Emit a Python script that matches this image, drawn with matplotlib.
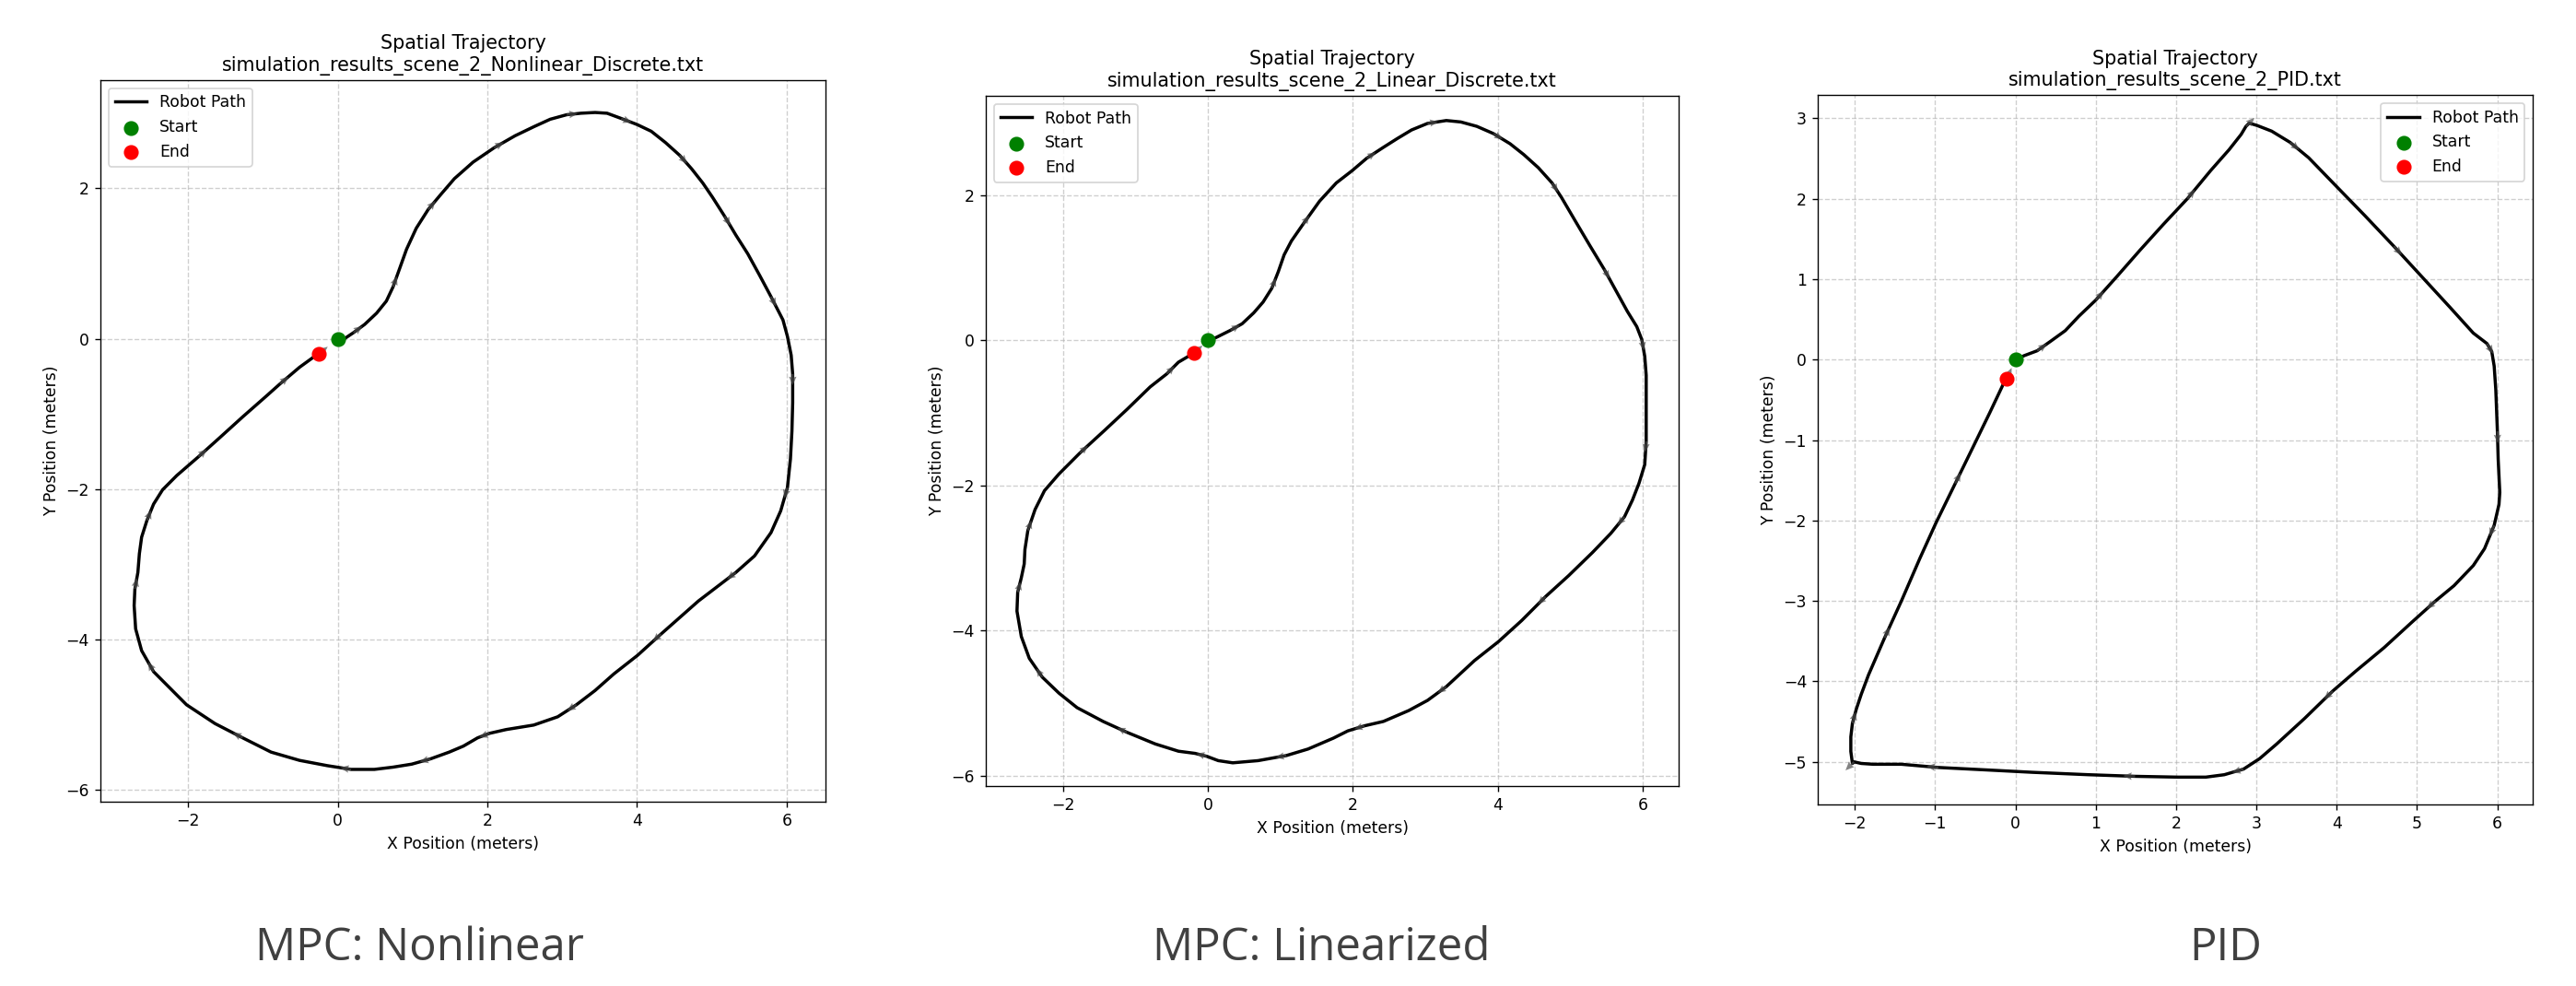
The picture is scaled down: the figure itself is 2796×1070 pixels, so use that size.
import numpy as np
import matplotlib
matplotlib.use('Agg')
import matplotlib.pyplot as plt
from matplotlib.ticker import MultipleLocator

# Trayectorias (metros)
nl_x = [0.00, 0.09, 0.21, 0.36, 0.52, 0.65, 0.74, 0.83, 0.92, 1.05, 1.21, 1.37, 1.56, 1.81, 2.09, 2.37,
        2.62, 2.84, 3.06, 3.25, 3.44, 3.60, 3.79, 4.00, 4.19, 4.38, 4.57, 4.73, 4.88, 5.01, 5.17, 5.32,
        5.48, 5.64, 5.79, 5.95, 6.01, 6.06, 6.08, 6.08, 6.07, 6.05, 6.01, 5.92, 5.79, 5.57, 5.32, 5.07,
        4.82, 4.57, 4.32, 4.01, 3.69, 3.44, 3.19, 2.94, 2.62, 2.25, 2.03, 1.87, 1.68, 1.49, 1.24, 0.99,
        0.74, 0.49, 0.18, -0.14, -0.51, -0.89, -1.27, -1.64, -2.02, -2.27, -2.46, -2.62, -2.70, -2.72,
        -2.71, -2.67, -2.65, -2.62, -2.55, -2.46, -2.34, -2.15, -1.86, -1.58, -1.27, -0.95, -0.77, -0.51,
        -0.33, -0.25]
nl_y = [0.00, 0.00, 0.08, 0.19, 0.34, 0.50, 0.69, 0.94, 1.19, 1.47, 1.72, 1.91, 2.13, 2.35, 2.54, 2.70,
        2.82, 2.92, 2.98, 3.00, 3.01, 3.00, 2.93, 2.85, 2.76, 2.61, 2.44, 2.26, 2.07, 1.88, 1.63, 1.38,
        1.13, 0.84, 0.56, 0.25, 0.03, -0.22, -0.47, -0.85, -1.23, -1.60, -1.98, -2.29, -2.58, -2.89, -3.11, -3.30,
        -3.49, -3.71, -3.93, -4.21, -4.46, -4.68, -4.87, -5.03, -5.14, -5.20, -5.25, -5.31, -5.42, -5.50, -5.59, -5.66,
        -5.70, -5.73, -5.73, -5.68, -5.61, -5.50, -5.31, -5.12, -4.87, -4.62, -4.43, -4.15, -3.86, -3.55,
        -3.33, -3.11, -2.86, -2.64, -2.42, -2.20, -2.01, -1.82, -1.57, -1.32, -1.04, -0.76, -0.60, -0.38,
        -0.25, -0.20]

lin_x = [0.00, 0.11, 0.31, 0.47, 0.63, 0.76, 0.88, 0.97, 1.05, 1.15, 1.31, 1.54, 1.77, 1.99, 2.19, 2.42,
         2.61, 2.81, 3.03, 3.29, 3.49, 3.71, 3.94, 4.17, 4.36, 4.56, 4.75, 4.88, 5.08, 5.27, 5.47, 5.63,
         5.79, 5.92, 5.99, 6.03, 6.05, 6.05, 6.05, 6.03, 5.95, 5.86, 5.75, 5.56, 5.31, 4.98, 4.66, 4.33,
         4.01, 3.68, 3.29, 3.03, 2.77, 2.42, 2.16, 1.93, 1.73, 1.38, 1.08, 0.69, 0.34, 0.14, -0.02, -0.18,
         -0.41, -0.73, -1.12, -1.45, -1.81, -2.06, -2.29, -2.47, -2.58, -2.64, -2.63, -2.58, -2.54, -2.53,
         -2.49, -2.39, -2.26, -2.06, -1.77, -1.42, -1.12, -0.80, -0.57, -0.41, -0.19]
lin_y = [0.00, 0.04, 0.14, 0.23, 0.38, 0.53, 0.72, 0.95, 1.18, 1.37, 1.60, 1.92, 2.17, 2.34, 2.51, 2.66,
         2.78, 2.90, 2.99, 3.03, 3.01, 2.95, 2.85, 2.71, 2.56, 2.38, 2.17, 1.97, 1.63, 1.31, 0.98, 0.69,
         0.40, 0.19, 0.01, -0.22, -0.48, -0.87, -1.39, -1.71, -1.97, -2.20, -2.43, -2.66, -2.92, -3.24, -3.53, -3.86,
         -4.15, -4.41, -4.77, -4.96, -5.10, -5.25, -5.31, -5.38, -5.48, -5.63, -5.72, -5.79, -5.82, -5.79, -5.73, -5.69,
         -5.66, -5.56, -5.40, -5.25, -5.06, -4.86, -4.64, -4.38, -4.08, -3.73, -3.47, -3.27, -3.08, -2.88,
         -2.62, -2.33, -2.07, -1.84, -1.55, -1.23, -0.95, -0.64, -0.46, -0.30, -0.17]

pid_x = [0.00, 0.11, 0.27, 0.44, 0.62, 0.79, 1.00, 1.26, 1.55, 1.84, 2.14, 2.43, 2.66, 2.81, 2.87, 2.91,
         3.01, 3.19, 3.42, 3.65, 3.98, 4.35, 4.71, 5.06, 5.41, 5.70, 5.87, 5.93, 5.96, 5.98, 6.00, 6.01,
         6.03, 6.02, 5.96, 5.84, 5.70, 5.46, 5.23, 4.94, 4.59, 4.24, 3.95, 3.60, 3.25, 3.04, 2.84, 2.60,
         2.37, 2.02, 1.49, 0.91, 0.21, -0.37, -0.96, -1.42, -1.77, -1.92, -2.01, -2.03, -2.05, -2.05,
         -2.03, -1.98, -1.92, -1.83, -1.63, -1.42, -1.19, -0.99, -0.75, -0.52, -0.32, -0.14, -0.11]
pid_y = [0.00, 0.05, 0.11, 0.23, 0.36, 0.54, 0.74, 1.03, 1.36, 1.68, 2.00, 2.35, 2.61, 2.80, 2.90, 2.94,
         2.91, 2.84, 2.70, 2.51, 2.17, 1.79, 1.41, 1.03, 0.65, 0.33, 0.20, 0.10, -0.08, -0.37, -0.89, -1.24,
         -1.65, -1.80, -2.06, -2.35, -2.56, -2.81, -3.00, -3.26, -3.58, -3.87, -4.12, -4.46, -4.78, -4.96, -5.09, -5.16,
         -5.19, -5.19, -5.18, -5.16, -5.13, -5.10, -5.07, -5.03, -5.03, -5.02, -5.00, -5.02, -4.87, -4.69,
         -4.52, -4.34, -4.16, -3.92, -3.46, -3.00, -2.47, -2.03, -1.54, -1.07, -0.66, -0.28, -0.24]

file_names = ['simulation_results_scene_2_Nonlinear_Discrete.txt',
              'simulation_results_scene_2_Linear_Discrete.txt',
              'simulation_results_scene_2_PID.txt']
captions = ['MPC: Nonlinear', 'MPC: Linearized', 'PID']

DPI = 124
fig = plt.figure(figsize=(2796 / DPI, 1070 / DPI), dpi=DPI)

panels = [
    # posición, xlim, ylim, paso de ticks, loc leyenda, centro x del pie
    ([0.0390, 0.1869, 0.2815, 0.7318], (-3.17, 6.52), (-6.16, 3.44), 2, 'upper left', 455),
    ([0.3827, 0.2028, 0.2690, 0.7000], (-3.07, 6.50), (-6.14, 3.37), 2, 'upper left', 1434),
    ([0.7057, 0.1841, 0.2775, 0.7196], (-2.46, 6.44), (-5.53, 3.29), 1, 'upper right', 2416),
]
paths = [(nl_x, nl_y), (lin_x, lin_y), (pid_x, pid_y)]

arrow_kw = dict(angles='xy', scale_units='xy', scale=1, color='#4d4d4d', alpha=0.7,
                width=0.003, headwidth=3.5, headlength=4, headaxislength=3.6, zorder=3)

for (pos, xl, yl, step, loc, cx), (px, py), fname, cap in zip(panels, paths, file_names, captions):
    ax = fig.add_axes(pos)
    px = np.array(px)
    py = np.array(py)
    ax.plot(px, py, color='black', lw=2, label='Robot Path', zorder=2)

    # flechitas de dirección
    idx = np.arange(2, len(px) - 1, 4)
    dx = px[idx + 1] - px[idx]
    dy = py[idx + 1] - py[idx]
    n = np.hypot(dx, dy)
    ax.quiver(px[idx], py[idx], dx / n * 0.15, dy / n * 0.15, **arrow_kw)
    ex, ey = -px[-1], -py[-1]
    en = np.hypot(ex, ey)
    ax.quiver(px[-1], py[-1], ex / en * 0.15, ey / en * 0.15, **arrow_kw)

    ax.scatter(px[0], py[0], color='green', s=70, label='Start', zorder=5)
    ax.scatter(px[-1], py[-1], color='red', s=70, label='End', zorder=5)

    ax.set_xlim(*xl)
    ax.set_ylim(*yl)
    ax.xaxis.set_major_locator(MultipleLocator(step))
    ax.yaxis.set_major_locator(MultipleLocator(step))
    ax.grid(True, linestyle='--', alpha=0.6)
    ax.set_title('Spatial Trajectory\n' + fname)
    ax.set_xlabel('X Position (meters)')
    ax.set_ylabel('Y Position (meters)')
    ax.legend(loc=loc)

    fig.text(cx / 2796, 1 - 1042 / 1070, cap, ha='center', va='baseline',
             fontsize=28.5, color='#404040', family='Open Sans')

fig.savefig('out.png', dpi=DPI)
